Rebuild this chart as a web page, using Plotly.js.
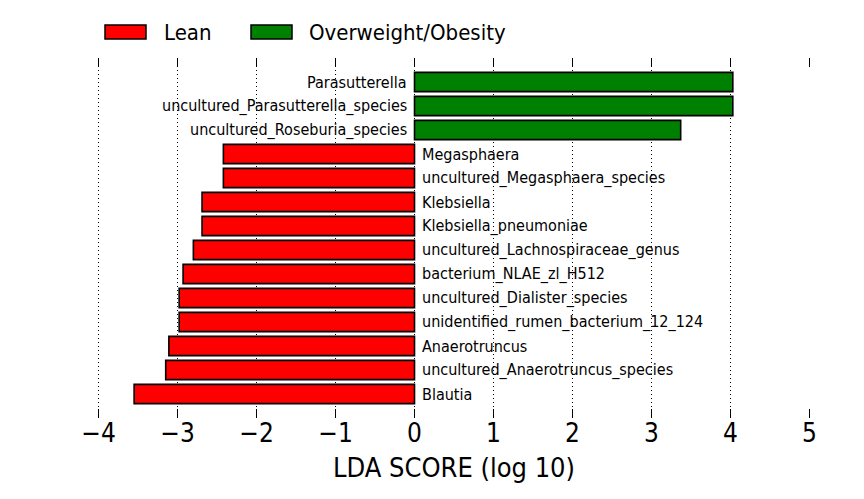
<!DOCTYPE html>
<html>
<head>
<meta charset="utf-8">
<script src="https://cdn.plot.ly/plotly-3.0.1.min.js"></script>
<style>html,body{margin:0;padding:0;background:#fff;}#chart{width:864px;height:499px;}</style>
</head>
<body>
<div id="chart"></div>
<script>
// Overweight/Obesity-enriched taxa (top to bottom)
const obeseTaxa = ["Parasutterella", "uncultured_Parasutterella_species", "uncultured_Roseburia_species"];
const obeseScores = [4.03, 4.03, 3.37];
// Lean-enriched taxa (top to bottom), LDA scores drawn as negative
const leanTaxa = ["Megasphaera", "uncultured_Megasphaera_species", "Klebsiella", "Klebsiella_pneumoniae",
  "uncultured_Lachnospiraceae_genus", "bacterium_NLAE_zl_H512", "uncultured_Dialister_species",
  "unidentified_rumen_bacterium_12_124", "Anaerotruncus", "uncultured_Anaerotruncus_species", "Blautia"];
const leanScores = [-2.42, -2.42, -2.69, -2.69, -2.80, -2.93, -2.98, -2.98, -3.11, -3.15, -3.55];
const xTicks = [-4, -3, -2, -1, 0, 1, 2, 3, 4, 5];
const gridTicks = [-4, -3, -2, -1, 0, 1, 2, 3, 4];
const groupNames = ["Lean", "Overweight/Obesity"];
const groupColors = ["#ff0000", "#008000"];

const FONT = "'DejaVu Sans Condensed', 'DejaVu Sans', sans-serif";
const W = 864, H = 499;
const M = {l: 97, r: 53, t: 58, b: 81};
const X_RANGE = [-4.02, 5.02];
const order = obeseTaxa.concat(leanTaxa).slice().reverse(); // bottom to top

const traces = [
  {type: 'bar', orientation: 'h', name: groupNames[0], y: leanTaxa, x: leanScores,
   marker: {color: groupColors[0], line: {color: '#000', width: 1.6}}, width: 0.8,
   xaxis: 'x', yaxis: 'y', hoverinfo: 'none', showlegend: false},
  {type: 'bar', orientation: 'h', name: groupNames[1], y: obeseTaxa, x: obeseScores,
   marker: {color: groupColors[1], line: {color: '#000', width: 1.6}}, width: 0.8,
   xaxis: 'x2', yaxis: 'y', hoverinfo: 'none', showlegend: false}
];

const annotations = [];
obeseTaxa.forEach(t => annotations.push({x: 0, y: t, xref: 'x', yref: 'y', text: t, showarrow: false,
  xanchor: 'right', xshift: -6, font: {family: FONT, size: 16, color: '#000'}}));
leanTaxa.forEach(t => annotations.push({x: 0, y: t, xref: 'x', yref: 'y', text: t, showarrow: false,
  xanchor: 'left', xshift: 5, font: {family: FONT, size: 16, color: '#000'}}));

// Legend drawn as layout decoration (paper coordinates converted from pixel layout)
const pw = W - M.l - M.r, ph = H - M.t - M.b;
const px = v => (v - M.l) / pw;
const py = v => (H - M.b - v) / ph;
const legendSwatchX = [105, 251];
const legendTextX = [162, 307];
const shapes = [];
groupNames.forEach((n, i) => {
  shapes.push({type: 'rect', xref: 'paper', yref: 'paper',
    x0: px(legendSwatchX[i]), x1: px(legendSwatchX[i] + 41), y0: py(39), y1: py(25),
    fillcolor: groupColors[i], line: {color: '#000', width: 1.5}, layer: 'above'});
  annotations.push({xref: 'paper', yref: 'paper', x: px(legendTextX[i]), y: py(32), text: n,
    xanchor: 'left', yanchor: 'middle', showarrow: false, font: {family: FONT, size: 22, color: '#000'}});
});

const layout = {
  width: W, height: H,
  margin: {l: M.l, r: M.r, t: M.t, b: M.b, pad: 0},
  paper_bgcolor: '#fff', plot_bgcolor: '#fff',
  font: {family: FONT, color: '#000'},
  barmode: 'overlay',
  showlegend: false,
  xaxis: {range: X_RANGE, tickmode: 'array', tickvals: xTicks, ticks: 'inside', ticklen: 9,
    tickcolor: '#000', tickwidth: 1.2, mirror: 'ticks', showline: false,
    showgrid: false, layer: 'above traces', ticklabelstandoff: -3,
    zeroline: false, tickfont: {family: FONT, size: 26, color: '#000'},
    title: {text: 'LDA SCORE (log 10)', font: {family: FONT, size: 27, color: '#000'}, standoff: 11}},
  xaxis2: {range: X_RANGE, overlaying: 'x', anchor: 'y', tickmode: 'array', tickvals: gridTicks,
    showgrid: true, gridcolor: '#000', gridwidth: 1, griddash: '1px,3px', ticks: '',
    showticklabels: false, zeroline: false, showline: false},
  yaxis: {type: 'category', categoryorder: 'array', categoryarray: order, range: [-1, 14],
    showticklabels: false, ticks: '', showgrid: false, zeroline: false, showline: false},
  shapes: shapes,
  annotations: annotations
};

Plotly.newPlot('chart', traces, layout, {displayModeBar: false, staticPlot: true});
</script>
</body>
</html>
